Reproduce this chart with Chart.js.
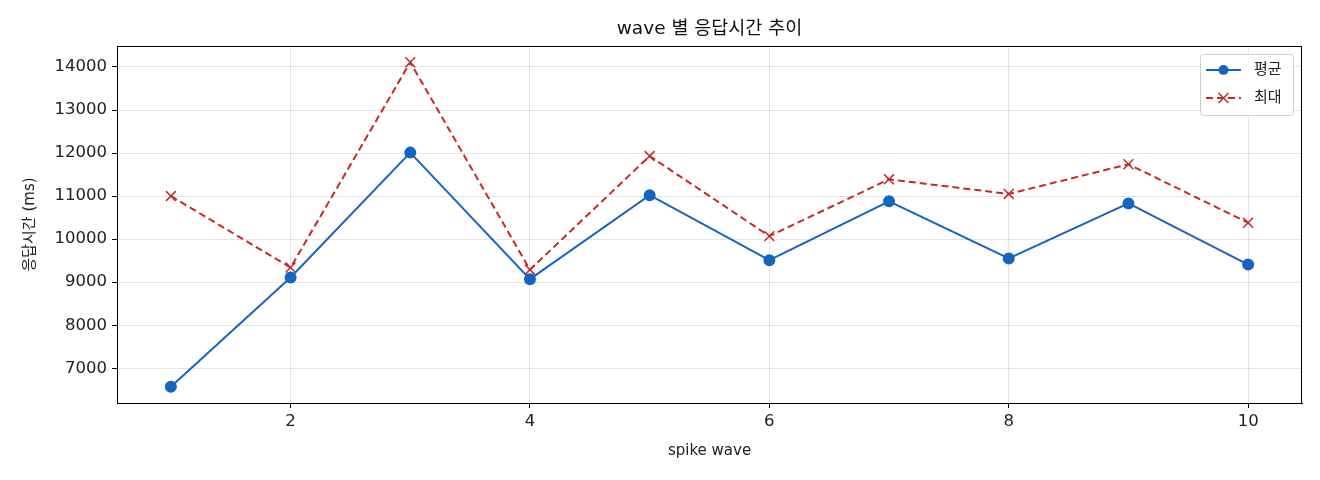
<!DOCTYPE html>
<html>
<head>
<meta charset="utf-8">
<script src="https://cdn.jsdelivr.net/npm/chart.js@4/dist/chart.umd.min.js"></script>
<style>
  html, body { margin: 0; padding: 0; background: #fff; }
  #wrap { width: 1320px; height: 480px; }
</style>
</head>
<body>
<div id="wrap"><canvas id="chart"></canvas></div>
<script>
  const waves = [1, 2, 3, 4, 5, 6, 7, 8, 9, 10];
  const avgMs = [6570, 9110, 12010, 9070, 11020, 9510, 10880, 9550, 10830, 9410];
  const maxMs = [11000, 9340, 14110, 9290, 11930, 10070, 11390, 11050, 11740, 10380];
  const xTicks = [2, 4, 6, 8, 10];
  const yTicks = [7000, 8000, 9000, 10000, 11000, 12000, 13000, 14000];
  const titleText = 'wave 별 응답시간 추이';

  const FONT = '"DejaVu Sans", "Noto Sans CJK KR", sans-serif';
  const BLUE = '#1565c0';
  const RED = '#c62828';

  // matplotlib-style margins (5% of data range)
  const yLo = Math.min(...avgMs, ...maxMs), yHi = Math.max(...avgMs, ...maxMs);
  const yPad = (yHi - yLo) * 0.05;
  const xPad = (waves[waves.length - 1] - waves[0]) * 0.05;

  // title over the plot, full box around the plot, legend inside top right
  const frame = {
    id: 'frame',
    afterDraw: (chart) => {
      const { ctx, chartArea: a } = chart;
      ctx.save();
      ctx.fillStyle = '#111';
      ctx.font = '18.5px ' + FONT;
      ctx.textAlign = 'center';
      ctx.textBaseline = 'middle';
      ctx.fillText(titleText, (a.left + a.right) / 2, 29);

      ctx.strokeStyle = '#000';
      ctx.lineWidth = 1;
      ctx.strokeRect(a.left + 0.5, a.top + 0.5, a.right - a.left - 1, a.bottom - a.top);

      const bx = a.right - 102, by = a.top + 8, bw = 93, bh = 61;
      ctx.fillStyle = 'rgba(255,255,255,0.85)';
      ctx.strokeStyle = '#d0d0d0';
      ctx.beginPath();
      ctx.roundRect(bx + 0.5, by + 0.5, bw, bh, 3);
      ctx.fill();
      ctx.stroke();

      ctx.textAlign = 'left';
      chart.data.datasets.forEach((ds, i) => {
        const y = by + 16 + i * 28;
        const x0 = bx + 6, x1 = bx + 41;
        ctx.strokeStyle = ds.borderColor;
        ctx.lineWidth = 2;
        ctx.setLineDash(ds.borderDash || []);
        ctx.beginPath();
        ctx.moveTo(x0, y);
        ctx.lineTo(x1, y);
        ctx.stroke();
        ctx.setLineDash([]);
        const mx = (x0 + x1) / 2;
        if (ds.pointStyle === 'circle') {
          ctx.fillStyle = ds.pointBackgroundColor;
          ctx.beginPath();
          ctx.arc(mx, y, 5, 0, Math.PI * 2);
          ctx.fill();
        } else {
          ctx.lineWidth = 1.5;
          ctx.beginPath();
          ctx.moveTo(mx - 5, y - 5); ctx.lineTo(mx + 5, y + 5);
          ctx.moveTo(mx + 5, y - 5); ctx.lineTo(mx - 5, y + 5);
          ctx.stroke();
        }
        ctx.fillStyle = '#222';
        ctx.font = '15px ' + FONT;
        ctx.fillText(ds.label, bx + 54, y);
      });
      ctx.restore();
    }
  };

  new Chart(document.getElementById('chart'), {
    type: 'line',
    data: {
      datasets: [
        {
          label: '평균',
          data: waves.map((w, i) => ({ x: w, y: avgMs[i] })),
          borderColor: BLUE,
          backgroundColor: BLUE,
          pointBackgroundColor: BLUE,
          pointBorderColor: BLUE,
          pointStyle: 'circle',
          pointRadius: 5,
          borderWidth: 2,
          tension: 0
        },
        {
          label: '최대',
          data: waves.map((w, i) => ({ x: w, y: maxMs[i] })),
          borderColor: RED,
          backgroundColor: RED,
          pointBorderColor: RED,
          pointBackgroundColor: RED,
          pointStyle: 'crossRot',
          pointRadius: 7,
          pointBorderWidth: 1.5,
          borderWidth: 2,
          borderDash: [7, 4],
          tension: 0
        }
      ]
    },
    options: {
      responsive: true,
      maintainAspectRatio: false,
      animation: false,
      layout: { padding: { left: 0, right: 18, top: 46, bottom: 0 } },
      plugins: {
        legend: { display: false },
        tooltip: { enabled: false },
        title: { display: false }
      },
      scales: {
        x: {
          type: 'linear',
          min: waves[0] - xPad,
          max: waves[waves.length - 1] + xPad,
          afterBuildTicks: (axis) => { axis.ticks = xTicks.map(v => ({ value: v })); },
          afterFit: (axis) => { axis.height = 77; },
          grid: { color: 'rgba(0,0,0,0.1)', tickColor: '#000', tickLength: 5 },
          border: { color: '#000' },
          ticks: { color: '#222', padding: 4, font: { family: FONT, size: 16.5 }, maxRotation: 0,
                   callback: (v) => String(v) },
          title: {
            display: true,
            text: 'spike wave',
            color: '#222',
            font: { family: FONT, size: 15 },
            padding: { top: 0, bottom: 20 }
          }
        },
        y: {
          min: yLo - yPad,
          max: yHi + yPad,
          afterBuildTicks: (axis) => { axis.ticks = yTicks.map(v => ({ value: v })); },
          afterFit: (axis) => { axis.width = 117; },
          grid: { color: 'rgba(0,0,0,0.1)', tickColor: '#000', tickLength: 5 },
          border: { color: '#000' },
          ticks: { color: '#222', padding: 5, font: { family: FONT, size: 16.5 },
                   callback: (v) => String(v) },
          title: {
            display: true,
            text: '응답시간 (ms)',
            color: '#222',
            font: { family: FONT, size: 15 },
            padding: { top: 21, bottom: 0 }
          }
        }
      }
    },
    plugins: [frame]
  });
</script>
</body>
</html>
